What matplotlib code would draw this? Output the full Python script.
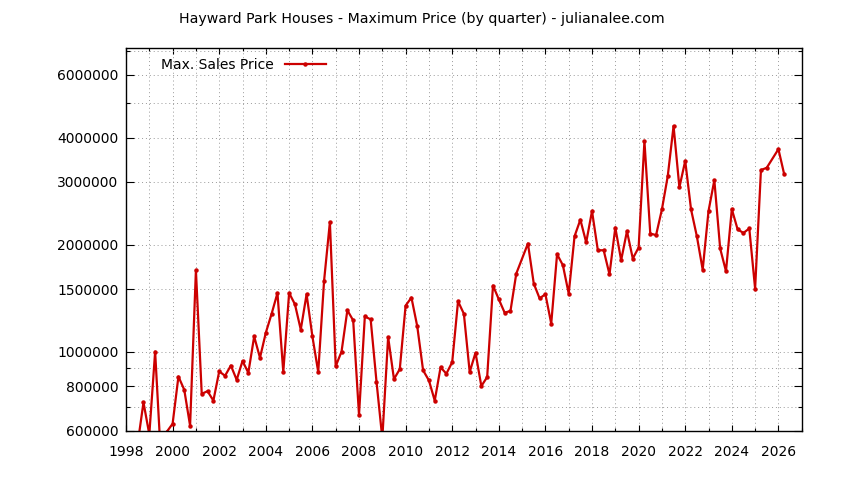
"""
Hayward Park Houses - preço máximo por trimestre (escala log)
"""

import numpy as np
import matplotlib
matplotlib.use("Agg")
import matplotlib.pyplot as plt
from matplotlib.ticker import FixedLocator, MultipleLocator, NullFormatter


# ==================== DADOS ====================
FIRST_QUARTER = 1998.5  # 3o trimestre de 1998
# preço máximo por trimestre (None = trimestre sem venda)
max_price = [
    550000, 720000, 585000, 1000000, 500000, 595000,
    627000, 851000, 781000, 619000,
    1694000, 761000, 774000, 728000,
    880000, 855000, 914000, 833000,
    941000, 872000, 1103000, 961000,
    1130000, 1278000, 1462000, 876000,
    1462000, 1359000, 1153000, 1450000,
    1103000, 876000, 1580000, 2313000,
    910000, 1000000, 1307000, 1224000,
    664000, 1256000, 1232000, 824000,
    570000, 1099000, 837000, 893000,
    1347000, 1419000, 1178000, 886000,
    830000, 728000, 903000, 867000,
    934000, 1385000, 1278000, 876000,
    993000, 800000, 848000, 1534000,
    1403000, 1287000, 1301000, 1658000,
    None, 2014000, 1554000, 1412000,
    1450000, 1199000, 1879000, 1750000,
    1456000, 2110000, 2350000, 2028000,
    2485000, 1928000, 1928000, 1650000,
    2233000, 1807000, 2181000, 1827000,
    1962000, 3910000, 2148000, 2127000,
    2512000, 3114000, 4310000, 2896000,
    3440000, 2512000, 2110000, 1700000,
    2485000, 3035000, 1950000, 1683000,
    2516000, 2206000, 2157000, 2220000,
    1504000, 3240000, 3290000, None,
    3710000, 3150000,
]

y_major = [600000, 800000, 1000000, 1500000, 2000000,
           3000000, 4000000, 6000000]
y_minor = [700000, 900000, 5000000, 7000000]

TITLE = "Hayward Park Houses - Maximum Price (by quarter) - julianalee.com"
LEGEND = "Max. Sales Price"
RED = "#cc0000"


def main():
    plt.rcParams["font.family"] = ["DejaVu Sans"]

    quarters = FIRST_QUARTER + 0.25 * np.arange(len(max_price))
    prices = np.array([np.nan if v is None else v for v in max_price], dtype=float)
    ok = ~np.isnan(prices)

    fig = plt.figure(figsize=(8.44, 4.8), dpi=100)
    ax = fig.add_axes([0.1493, 0.1031, 0.9499 - 0.1493, 0.8994 - 0.1031])

    ax.plot(quarters[ok], prices[ok], color=RED, lw=1.6, marker="o",
            markersize=2.2, label=LEGEND)

    ax.set_yscale("log")
    ax.set_ylim(600000, 7130000)
    ax.set_xlim(1998, 2027)

    ax.yaxis.set_major_locator(FixedLocator(y_major))
    ax.yaxis.set_major_formatter(plt.FuncFormatter(lambda v, p: f"{v:.0f}"))
    ax.yaxis.set_minor_locator(FixedLocator(y_minor))
    ax.yaxis.set_minor_formatter(NullFormatter())
    ax.xaxis.set_major_locator(MultipleLocator(2))
    ax.xaxis.set_minor_locator(MultipleLocator(1))

    ax.tick_params(which="both", direction="in", top=True, right=True,
                   colors="black", width=0.8)
    ax.tick_params(axis="y", which="major", length=6, pad=5.5, labelsize=10)
    ax.tick_params(axis="y", which="minor", length=3)
    ax.tick_params(axis="x", which="major", length=4.5, pad=10.5, labelsize=10)
    ax.tick_params(axis="x", which="minor", length=2.5)

    ax.grid(True, which="both", linestyle=(0, (1, 3)), color="#999999", lw=0.7)
    for s in ax.spines.values():
        s.set_linewidth(1.0)

    ax.legend(loc="upper left", bbox_to_anchor=(0.037, 1.0), frameon=False,
              markerfirst=False, handlelength=3.0, fontsize=10,
              borderaxespad=0.3)

    fig.text(0.5, 0.96, TITLE, ha="center", va="center", fontsize=10.2)

    fig.savefig("out.png", dpi=100)
    plt.close(fig)


if __name__ == "__main__":
    main()
